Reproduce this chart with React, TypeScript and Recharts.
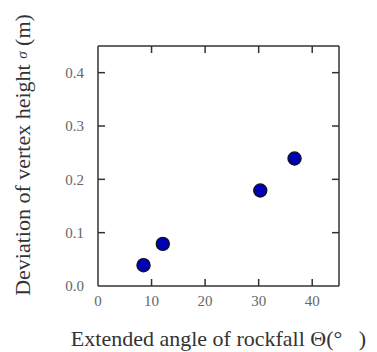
import { Label, Scatter, ScatterChart, XAxis, YAxis } from "recharts";

const angles = [8.5, 12.1, 30.3, 36.7];
const deviations = [0.039, 0.079, 0.179, 0.239];

const xTicks = [0, 10, 20, 30, 40];
const yTicks = [0, 0.1, 0.2, 0.3, 0.4];
const innerXTicks = [10, 20, 30, 40];
const innerYTicks = [0.1, 0.2, 0.3, 0.4];

const data = angles.map((a, i) => ({ angle: a, dev: deviations[i] }));

const frame = "#333";
const serif = "Liberation Serif";
const tickText = { fill: "#666", fontSize: 15, fontFamily: serif };

function Dot(props: any) {
  const { cx, cy } = props;
  return <circle cx={cx} cy={cy} r={6.6} fill="#0000b4" stroke="#111" strokeWidth={1.2} />;
}

// empty marks / labels, only there so the frame axes and tick marks get drawn
const Nothing = () => <g />;

function YTitle(props: any) {
  const { viewBox } = props;
  const cx = viewBox.x + 22;
  const cy = viewBox.y + viewBox.height / 2 - 11;
  return (
    <text
      x={cx}
      y={cy}
      transform={`rotate(-90, ${cx}, ${cy})`}
      textAnchor="middle"
      dominantBaseline="central"
      fill="#333"
      fontSize={22}
      fontFamily={serif}
    >
      Deviation of vertex height <tspan fontStyle="italic" fontSize={15}>σ</tspan> (m)
    </text>
  );
}

export default function App() {
  return (
    <div style={{ position: "fixed", left: 0, top: 0, background: "#fff" }}>
      <ScatterChart
        width={377}
        height={352}
        margin={{ top: 46, right: 38, bottom: 0, left: 0 }}
        style={{ fontFamily: serif }}
      >
        <XAxis
          xAxisId="b"
          type="number"
          dataKey="angle"
          domain={[0, 45]}
          ticks={xTicks}
          height={66}
          tickSize={0}
          tickMargin={9}
          tick={tickText}
          stroke={frame}
          strokeWidth={1.5}
          tickLine={false}
        >
          <Label
            value={"Extended angle of rockfall Θ(°\u00a0\u00a0\u00a0)"}
            position="insideBottom"
            offset={6}
            style={{ fill: "#333", fontSize: 22, fontFamily: serif }}
          />
        </XAxis>
        <YAxis
          yAxisId="l"
          type="number"
          dataKey="dev"
          domain={[0, 0.45]}
          ticks={yTicks}
          width={98}
          tickSize={0}
          tickMargin={14}
          tick={tickText}
          tickFormatter={(v: number) => v.toFixed(1)}
          stroke={frame}
          strokeWidth={1.5}
          tickLine={false}
        >
          <Label content={<YTitle />} />
        </YAxis>
        {/* inward tick marks on all four sides */}
        <XAxis
          xAxisId="bi"
          type="number"
          dataKey="angle"
          domain={[0, 45]}
          ticks={innerXTicks}
          height={1}
          mirror
          tick={<Nothing />}
          tickLine={{ stroke: frame, strokeWidth: 1.5 }}
          tickSize={7}
          stroke={frame}
          axisLine={false}
        />
        <XAxis
          xAxisId="t"
          orientation="top"
          type="number"
          dataKey="angle"
          domain={[0, 45]}
          ticks={innerXTicks}
          height={1}
          mirror
          tick={<Nothing />}
          tickLine={{ stroke: frame, strokeWidth: 1.5 }}
          tickSize={7}
          stroke={frame}
          strokeWidth={1.5}
        />
        <YAxis
          yAxisId="li"
          type="number"
          dataKey="dev"
          domain={[0, 0.45]}
          ticks={innerYTicks}
          width={1}
          mirror
          tick={<Nothing />}
          tickLine={{ stroke: frame, strokeWidth: 1.5 }}
          tickSize={7}
          stroke={frame}
          axisLine={false}
        />
        <YAxis
          yAxisId="r"
          orientation="right"
          type="number"
          dataKey="dev"
          domain={[0, 0.45]}
          ticks={innerYTicks}
          width={1}
          mirror
          tick={<Nothing />}
          tickLine={{ stroke: frame, strokeWidth: 1.5 }}
          tickSize={7}
          stroke={frame}
          strokeWidth={1.5}
        />
        <Scatter xAxisId="bi" yAxisId="li" data={data} shape={<Nothing />} isAnimationActive={false} />
        <Scatter xAxisId="t" yAxisId="r" data={data} shape={<Nothing />} isAnimationActive={false} />
        <Scatter
          xAxisId="b"
          yAxisId="l"
          data={data}
          shape={<Dot />}
          isAnimationActive={false}
        />
      </ScatterChart>
    </div>
  );
}
